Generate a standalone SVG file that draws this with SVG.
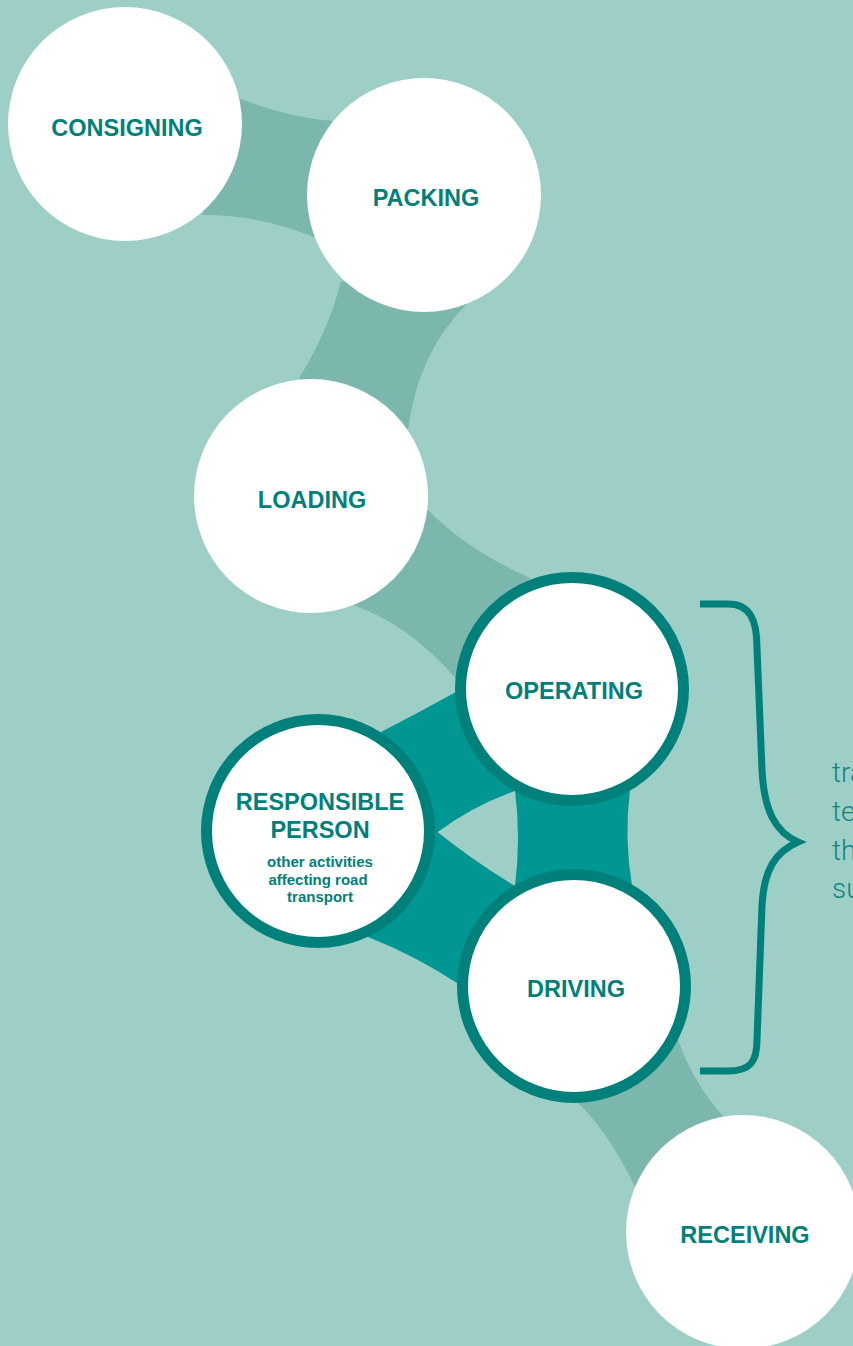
<svg xmlns="http://www.w3.org/2000/svg" width="853" height="1346" viewBox="0 0 853 1346">
  <style>
    .band-light { fill: #7bb7ad; }
    .band-dark { fill: #009691; }
    .node { fill: #ffffff; }
    .ring { fill: #ffffff; stroke: #00807a; stroke-width: 11; }
    .label { font-family: "Liberation Sans", Arial, Helvetica, sans-serif; font-weight: bold; font-size: 23.5px; fill: #00807a; text-anchor: middle; }
    .sub { font-family: "Liberation Sans", Arial, Helvetica, sans-serif; font-weight: bold; font-size: 15px; fill: #00807a; text-anchor: middle; }
    .side { font-family: Roboto, "Open Sans", "Liberation Sans", sans-serif; font-weight: 300; font-size: 28px; fill: #13857d; }
    .brace { fill: none; stroke: #00807a; stroke-width: 7; stroke-linejoin: miter; stroke-miterlimit: 10; }
  </style>

  <rect x="0" y="0" width="853" height="1346" fill="#9dcfc7"/>

  <!-- connectors: curved bands drawn beneath the circles -->
  <g id="connectors">
    <path id="consigning-packing" class="band-light" d="M239,98 Q286,117 332,121 L314,237 Q256,214 202,215 Z"/>
    <path id="packing-loading" class="band-light" d="M341,281 Q329,330 298,380 L408,430 Q418,352 467,304 Z"/>
    <path id="loading-operating" class="band-light" d="M428,510 Q467,550 530,578 L457,680 Q409,624 353,605 Z"/>
    <path id="operating-responsible" class="band-dark" d="M381,732 Q418,713 456,692 L515,791 Q472,806 435,834 Z"/>
    <path id="responsible-driving" class="band-dark" d="M435,830 Q472,860 515,886 L457,983 Q414,955 368,937 Z"/>
    <path id="operating-driving" class="band-dark" d="M515,790 Q521,838 515,886 L632,885.5 Q624,838 630,789.5 Z"/>
    <path id="driving-receiving" class="band-light" d="M577,1102 Q608,1131 635,1187 L723,1116 Q694,1084 678,1040 Z"/>
  </g>

  <!-- activity nodes -->
  <g id="consigning">
    <circle class="node" cx="125" cy="124" r="117"/>
    <text class="label" x="127" y="136">CONSIGNING</text>
  </g>
  <g id="packing">
    <circle class="node" cx="424" cy="195" r="117"/>
    <text class="label" x="426" y="206">PACKING</text>
  </g>
  <g id="loading">
    <circle class="node" cx="311" cy="496" r="117"/>
    <text class="label" x="312" y="508">LOADING</text>
  </g>
  <g id="operating">
    <circle class="ring" cx="572" cy="689" r="111.5"/>
    <text class="label" x="574" y="699">OPERATING</text>
  </g>
  <g id="responsible-person">
    <circle class="ring" cx="318" cy="831" r="111.5"/>
    <text class="label" x="320" y="810">RESPONSIBLE</text>
    <text class="label" x="320" y="838">PERSON</text>
    <text class="sub" x="320" y="867">other activities</text>
    <text class="sub" x="318" y="885">affecting road</text>
    <text class="sub" x="320" y="902">transport</text>
  </g>
  <g id="driving">
    <circle class="ring" cx="574" cy="986" r="111.5"/>
    <text class="label" x="576" y="997">DRIVING</text>
  </g>
  <g id="receiving">
    <circle class="node" cx="743" cy="1232" r="117"/>
    <text class="label" x="745" y="1243">RECEIVING</text>
  </g>

  <!-- curly brace grouping operating and driving -->
  <g id="brace">
    <path class="brace" d="M700,604 H728 C750,604 757,620 757,648 L762,770 C764,810 775,832 798,842 C775,852 764,870 762,905 L757,1040 C757,1062 750,1071 728,1071 H700"/>
  </g>

  <!-- note beside the brace, running off the right edge -->
  <g id="side-note">
    <text class="side" x="832" y="782">tra</text>
    <text class="side" x="832" y="821">te</text>
    <text class="side" x="832" y="860">th</text>
    <text class="side" x="832" y="898">su</text>
  </g>
</svg>
